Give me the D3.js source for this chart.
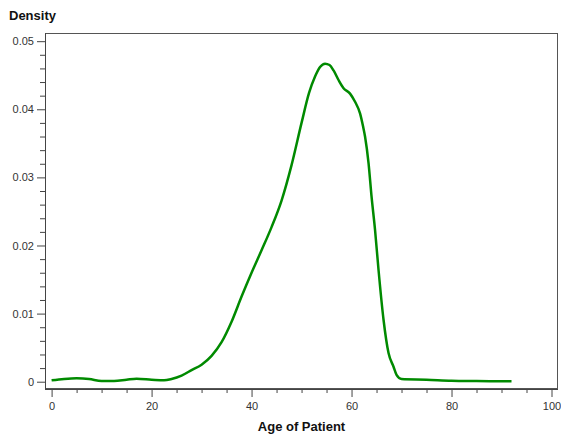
<!DOCTYPE html>
<html>
<head>
<meta charset="utf-8">
<script src="https://cdn.jsdelivr.net/npm/d3@7"></script>
<style>
  html, body { margin: 0; padding: 0; background: #fff; }
  svg { display: block; font-family: "Liberation Sans", Arial, sans-serif; }
</style>
</head>
<body>
<svg id="chart" width="561" height="440"></svg>
<script>
// ---- Data ----
const ages = [0, 2.5, 5, 7.5, 10, 12.5, 15, 17, 20, 22.5, 24, 26, 28, 30, 32, 34, 36, 38, 40, 42, 44, 46, 48, 50,
  51.5, 52.7, 53.7, 54.7, 55.6, 56.4, 57.4, 58.4, 59.7, 60.7, 61.7, 62.3, 62.7, 63.4, 64, 64.7, 65.4, 66.4,
  67.4, 68.4, 69, 70, 75, 80, 85, 92];
const density = [0.0002, 0.0004, 0.0005, 0.0004, 0.0001, 0.0001, 0.0003, 0.00045, 0.0003, 0.0002, 0.0004, 0.0009,
  0.0017, 0.0025, 0.0038, 0.0058, 0.0088, 0.0125, 0.0160, 0.0193, 0.0227, 0.0266, 0.0318, 0.0380,
  0.0424, 0.0448, 0.0462, 0.0467, 0.0465, 0.0457, 0.0443, 0.0431, 0.0423, 0.0411, 0.0394, 0.0375, 0.0360,
  0.0321, 0.0272, 0.0223, 0.0164, 0.0091, 0.0042, 0.0022, 0.0010, 0.0004, 0.0003, 0.00015, 0.0001, 0.00005];
const xMajorTicks = [0, 20, 40, 60, 80, 100];
const yMajorTicks = [0, 0.01, 0.02, 0.03, 0.04, 0.05];
const xLabel = "Age of Patient";
const yLabel = "Density";

// ---- Layout ----
const L = 45, T = 33, R = 558, B = 389;
const svg = d3.select("#chart");

const x = d3.scaleLinear().domain([-1.32, 101.3]).range([L, R]);
const y = d3.scaleLinear().domain([-0.00107, 0.0512]).range([B, T]);

const xMinor = d3.range(0, 101, 5).filter(v => !xMajorTicks.includes(v));
const yMinor = d3.range(0, 0.0501, 0.002).filter(v => !yMajorTicks.some(t => Math.abs(t - v) < 1e-9));

const axisColor = "#444";
const textColor = "#333";

// Frame
svg.append("rect")
  .attr("x", L + 0.5).attr("y", T + 0.5)
  .attr("width", R - L - 1).attr("height", B - T - 1)
  .attr("fill", "none").attr("stroke", "#555").attr("stroke-width", 1);

// X axis
svg.append("g").attr("transform", `translate(0,${B})`)
  .call(d3.axisBottom(x).tickValues(xMajorTicks).tickFormat(d3.format("d")).tickSize(8).tickPadding(5));
svg.append("g").attr("transform", `translate(0,${B})`)
  .call(d3.axisBottom(x).tickValues(xMinor).tickFormat("").tickSize(4))
  .call(g => g.select(".domain").remove());

// Y axis
svg.append("g").attr("transform", `translate(${L},0)`)
  .call(d3.axisLeft(y).tickValues(yMajorTicks).tickFormat(d => d === 0 ? "0" : d3.format(".2f")(d)).tickSize(8).tickPadding(3));
svg.append("g").attr("transform", `translate(${L},0)`)
  .call(d3.axisLeft(y).tickValues(yMinor).tickFormat("").tickSize(5))
  .call(g => g.select(".domain").remove());

svg.selectAll(".domain").remove();
svg.selectAll(".tick line").attr("stroke", axisColor);
svg.selectAll(".tick text").attr("fill", textColor).style("font-size", "11px")
  .style("font-family", '"Liberation Sans", Arial, sans-serif');

// Bottom axis line & left line (over frame)
svg.append("line").attr("x1", L).attr("x2", R).attr("y1", B + 0.5).attr("y2", B + 0.5)
  .attr("stroke", axisColor);
svg.append("line").attr("x1", L + 0.5).attr("x2", L + 0.5).attr("y1", T).attr("y2", B)
  .attr("stroke", axisColor);

// Density curve
const pts = ages.map((a, i) => [a, density[i]]);
const line = d3.line().x(d => x(d[0])).y(d => y(d[1])).curve(d3.curveMonotoneX);
svg.append("path").datum(pts)
  .attr("d", line)
  .attr("fill", "none")
  .attr("stroke", "#008a00")
  .attr("stroke-width", 2.5)
  .attr("stroke-linejoin", "round");

// Labels
svg.append("text").attr("x", (L + R) / 2).attr("y", 431)
  .attr("text-anchor", "middle").attr("font-weight", "bold").attr("font-size", "13px")
  .attr("fill", "#111").text(xLabel);
svg.append("text").attr("x", 9).attr("y", 20)
  .attr("font-weight", "bold").attr("font-size", "13px")
  .attr("fill", "#111").text(yLabel);
</script>
</body>
</html>
